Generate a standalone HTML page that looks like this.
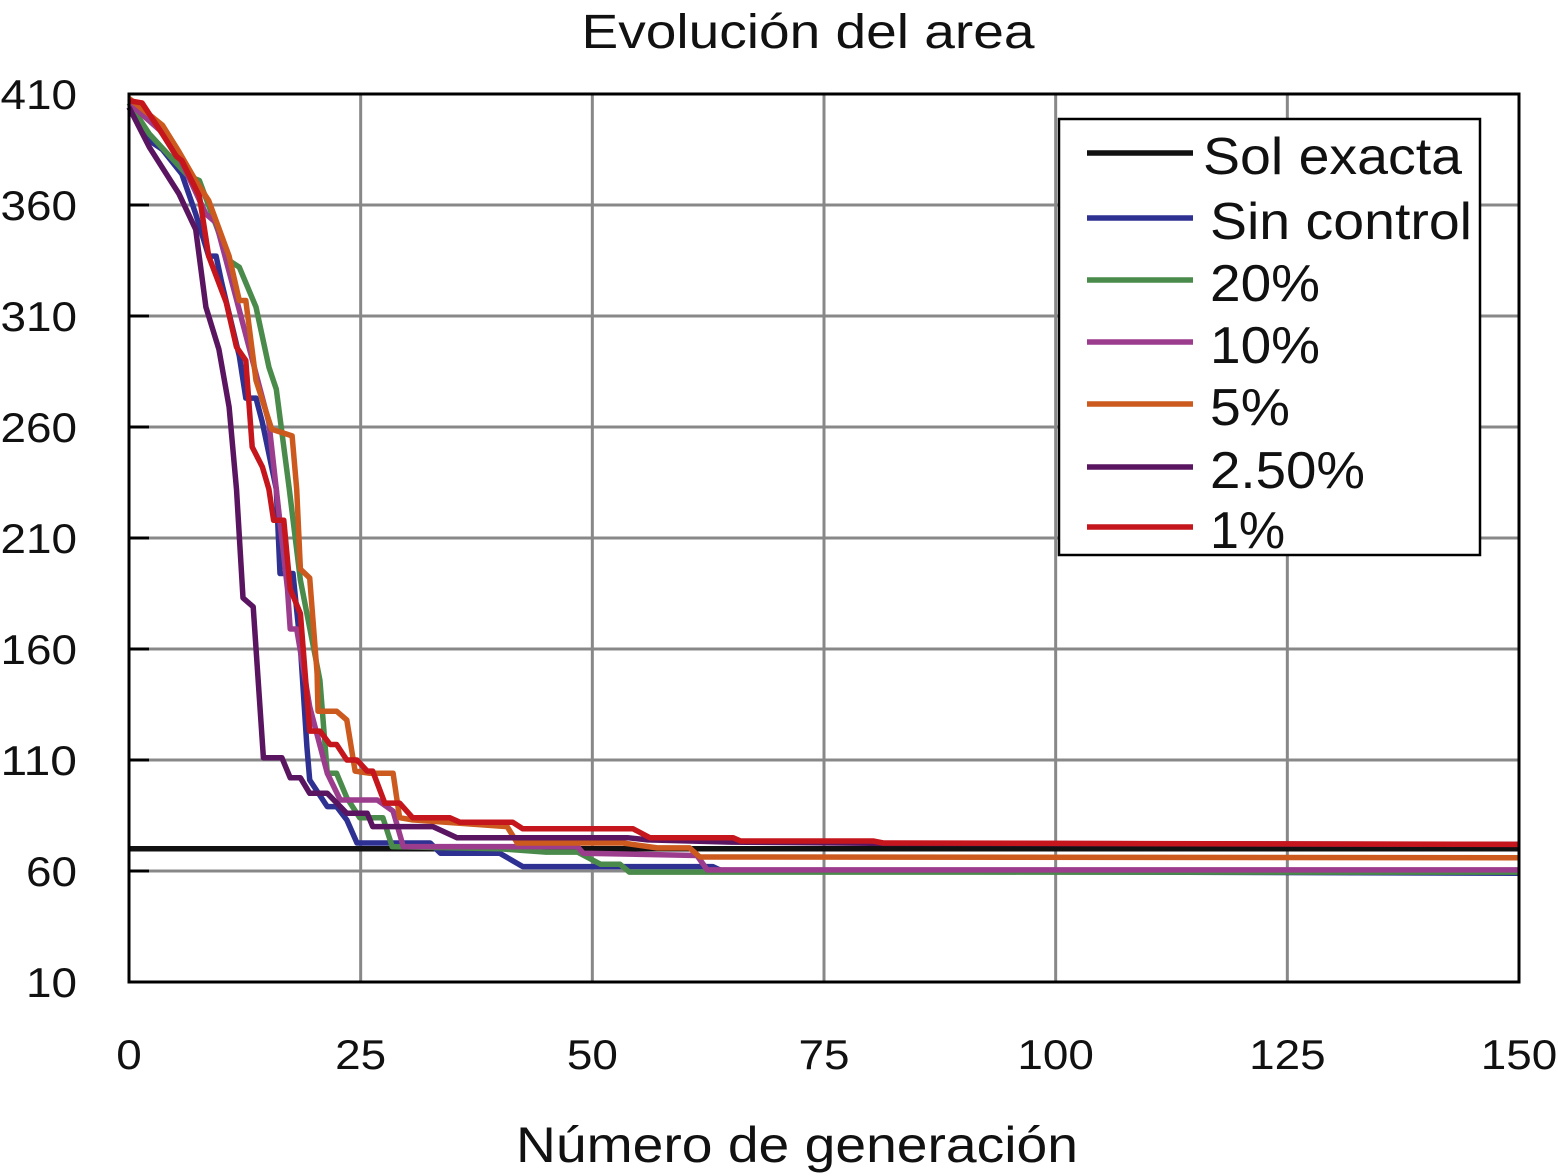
<!DOCTYPE html>
<html><head><meta charset="utf-8"><style>
html,body{margin:0;padding:0;background:#fff;}
svg{display:block;font-family:"Liberation Sans",Arial,sans-serif;}
</style></head><body>
<svg id="chart" width="1558" height="1176" viewBox="0 0 1558 1176">
<text x="808" y="48" font-size="48" text-anchor="middle" textLength="453" lengthAdjust="spacingAndGlyphs" fill="#111">Evolución del area</text>
<g id="grid"></g>
<g id="ticks"></g>
<g id="series"></g>
<rect x="129" y="94" width="1390" height="888" fill="none" stroke="#000" stroke-width="3"/>
<text x="797" y="1162" font-size="50" text-anchor="middle" textLength="562" lengthAdjust="spacingAndGlyphs" fill="#111">Número de generación</text>
<g id="legend">
<rect x="1059" y="119" width="421" height="436" fill="#fff" stroke="#000" stroke-width="2.5"/>
</g>
</svg>
<script>
const xTicks=[0,25,50,75,100,125,150];
const yTicks=[10,60,110,160,210,260,310,360,410];
const seriesNames=["Sol exacta","Sin control","20%","10%","5%","2.50%","1%"];
const seriesColors=["#111111","#2e3192","#4a8a4a","#9b3d8c","#cc5a1e","#5a1560","#c4161c"];
const solGen=[0,150];
const solVal=[70,70];
const sinGen=[0,2.2,3.6,5.7,7.2,8.6,9.4,10,11.9,12.6,13.7,14.4,15.9,16.3,17.7,18.5,19.2,19.5,21.4,22.4,23.5,24.6,32.5,33.6,40,42.5,63,64,150];
const sinVal=[404,389,385,374,356,337,337,325,292,273,273,262,232,194,194,161,116,101,89,89,83,72.6,72.6,68,68,62,62,60,59];
const p20Gen=[0,2.2,6.4,7.6,10.8,11.9,13.7,15.1,15.9,17.3,18.5,20.6,21.4,22.4,23.5,24.9,27.4,28.4,40,45,48.4,50.9,53,54,150];
const p20Val=[406,392,373,371,335,332,314,287,277,232,191,146,104,104,93,84,84,71,70,68.5,68.5,63,63,59.5,59.5];
const p10Gen=[0,4.6,8.3,9.4,11.5,13.7,15.1,15.9,17.1,17.4,18.1,19.5,21.4,22.8,26.8,28.5,29.6,48.4,49,61.3,62.4,150];
const p10Val=[406,389,356,352,319,284,262,232,187,169,169,134,104,92,92,87,71,71,68,67,60.5,60.5];
const p5Gen=[0,3.6,5.4,7.2,8.6,10.8,11.9,12.6,13.7,15.4,17.6,18.1,18.5,19.5,20.3,20.4,22.4,23.5,24.4,26,28.5,29.2,30.6,40.8,41.9,53.3,57,60.5,61.6,150];
const p5Val=[408,396,384,371,362,337,317,317,281,259,256,232,196,192,149,132,132,128,105,104,104,84,83,80,72.6,72.6,70.4,70.4,66.3,66];
const p25Gen=[0,2.2,5.4,7.2,8.3,9.7,10.8,11.6,12.3,13.4,14.5,16.5,17.4,18.5,19.5,21.4,23.5,25.7,26.3,32.8,35.4,53.8,56,65,80,150];
const p25Val=[404,386,365,349,314,295,269,232,183,179,111,111,102,102,95,95,86,86,80,80,75,75,74,73,72.5,72];
const p1Gen=[0,1.4,3.6,5.1,5.7,7.6,8.6,10.5,11.6,12.6,13.3,14.4,15.1,15.6,16.7,17.4,18.5,19.5,20.6,21.7,22.4,23.5,24.6,25.7,26.3,27.6,29.2,30.6,34.6,35.7,41.4,42.5,54.4,56.2,65.2,66,80.3,81.4,150];
const p1Val=[407,406,392,382,380,364,337,316,296,290,251,242,232,218,218,187,176,123,123,117,117,110,110,105,105,90.6,90.6,84,84,82,82,79,79,75,75,73.5,73.5,72.6,72];

const X0=129,X1=1519,Y0=982,Y1=94;
function xs(g){return X0+(g-0)/(150-0)*(X1-X0);}
function ys(v){return Y0-(v-10)/(410-10)*(Y0-Y1);}
const NS="http://www.w3.org/2000/svg";
const grid=document.getElementById('grid'),ticks=document.getElementById('ticks'),ser=document.getElementById('series'),leg=document.getElementById('legend');
function mk(tag,attrs,parent){const e=document.createElementNS(NS,tag);for(const k in attrs)e.setAttribute(k,attrs[k]);parent.appendChild(e);return e;}
xTicks.forEach(t=>{
  const l=mk('line',{x1:xs(t),x2:xs(t),y1:Y1,y2:Y0,stroke:'#888',"stroke-width":3},grid);
  
  
  const s=String(t);
  const tx=mk('text',{x:xs(t),y:1069,"font-size":42,"text-anchor":"middle",fill:'#111',textLength:s.length*25.5,lengthAdjust:'spacingAndGlyphs'},ticks);
  tx.textContent=s;
  
  
});
yTicks.forEach(t=>{
  const l=mk('line',{x1:X0,x2:X1,y1:ys(t),y2:ys(t),stroke:'#888',"stroke-width":3},grid);
  
  
  const tk=mk('line',{x1:X0,x2:X0+20,y1:ys(t),y2:ys(t),stroke:'#000',"stroke-width":3},ticks);
  
  
  const s=String(t);
  const tx=mk('text',{x:77,y:ys(t)+15,"font-size":42,"text-anchor":"end",fill:'#111',textLength:s.length*25.5,lengthAdjust:'spacingAndGlyphs'},ticks);
  tx.textContent=s;
  
  
});
const gens=[solGen,sinGen,p20Gen,p10Gen,p5Gen,p25Gen,p1Gen];
const vals=[solVal,sinVal,p20Val,p10Val,p5Val,p25Val,p1Val];
[0,1,2,3,4,5,6].forEach(i=>{
  const pts=gens[i].map((g,j)=>xs(g).toFixed(1)+','+ys(vals[i][j]).toFixed(1)).join(' ');
  const pl=mk('polyline',{points:pts,fill:'none',stroke:seriesColors[i],"stroke-width":5.5,"stroke-linejoin":"round"},ser);
  
  
});
const legY=[153,218,280,342,404,467,527];
const legW=[259,262,110,110,80,155,0];
seriesNames.forEach((n,i)=>{
  const l=mk('line',{x1:1087,x2:1193,y1:legY[i],y2:legY[i],stroke:seriesColors[i],"stroke-width":5.5},leg);
  
  
  const attrs={x:i==0?1203:1210,y:legY[i]+21,"font-size":52,fill:'#111'};
  if(legW[i]>0){attrs.textLength=legW[i];attrs.lengthAdjust='spacingAndGlyphs';}
  const t=mk('text',attrs,leg);
  t.textContent=n;
  
  
});
</script>
</body></html>
